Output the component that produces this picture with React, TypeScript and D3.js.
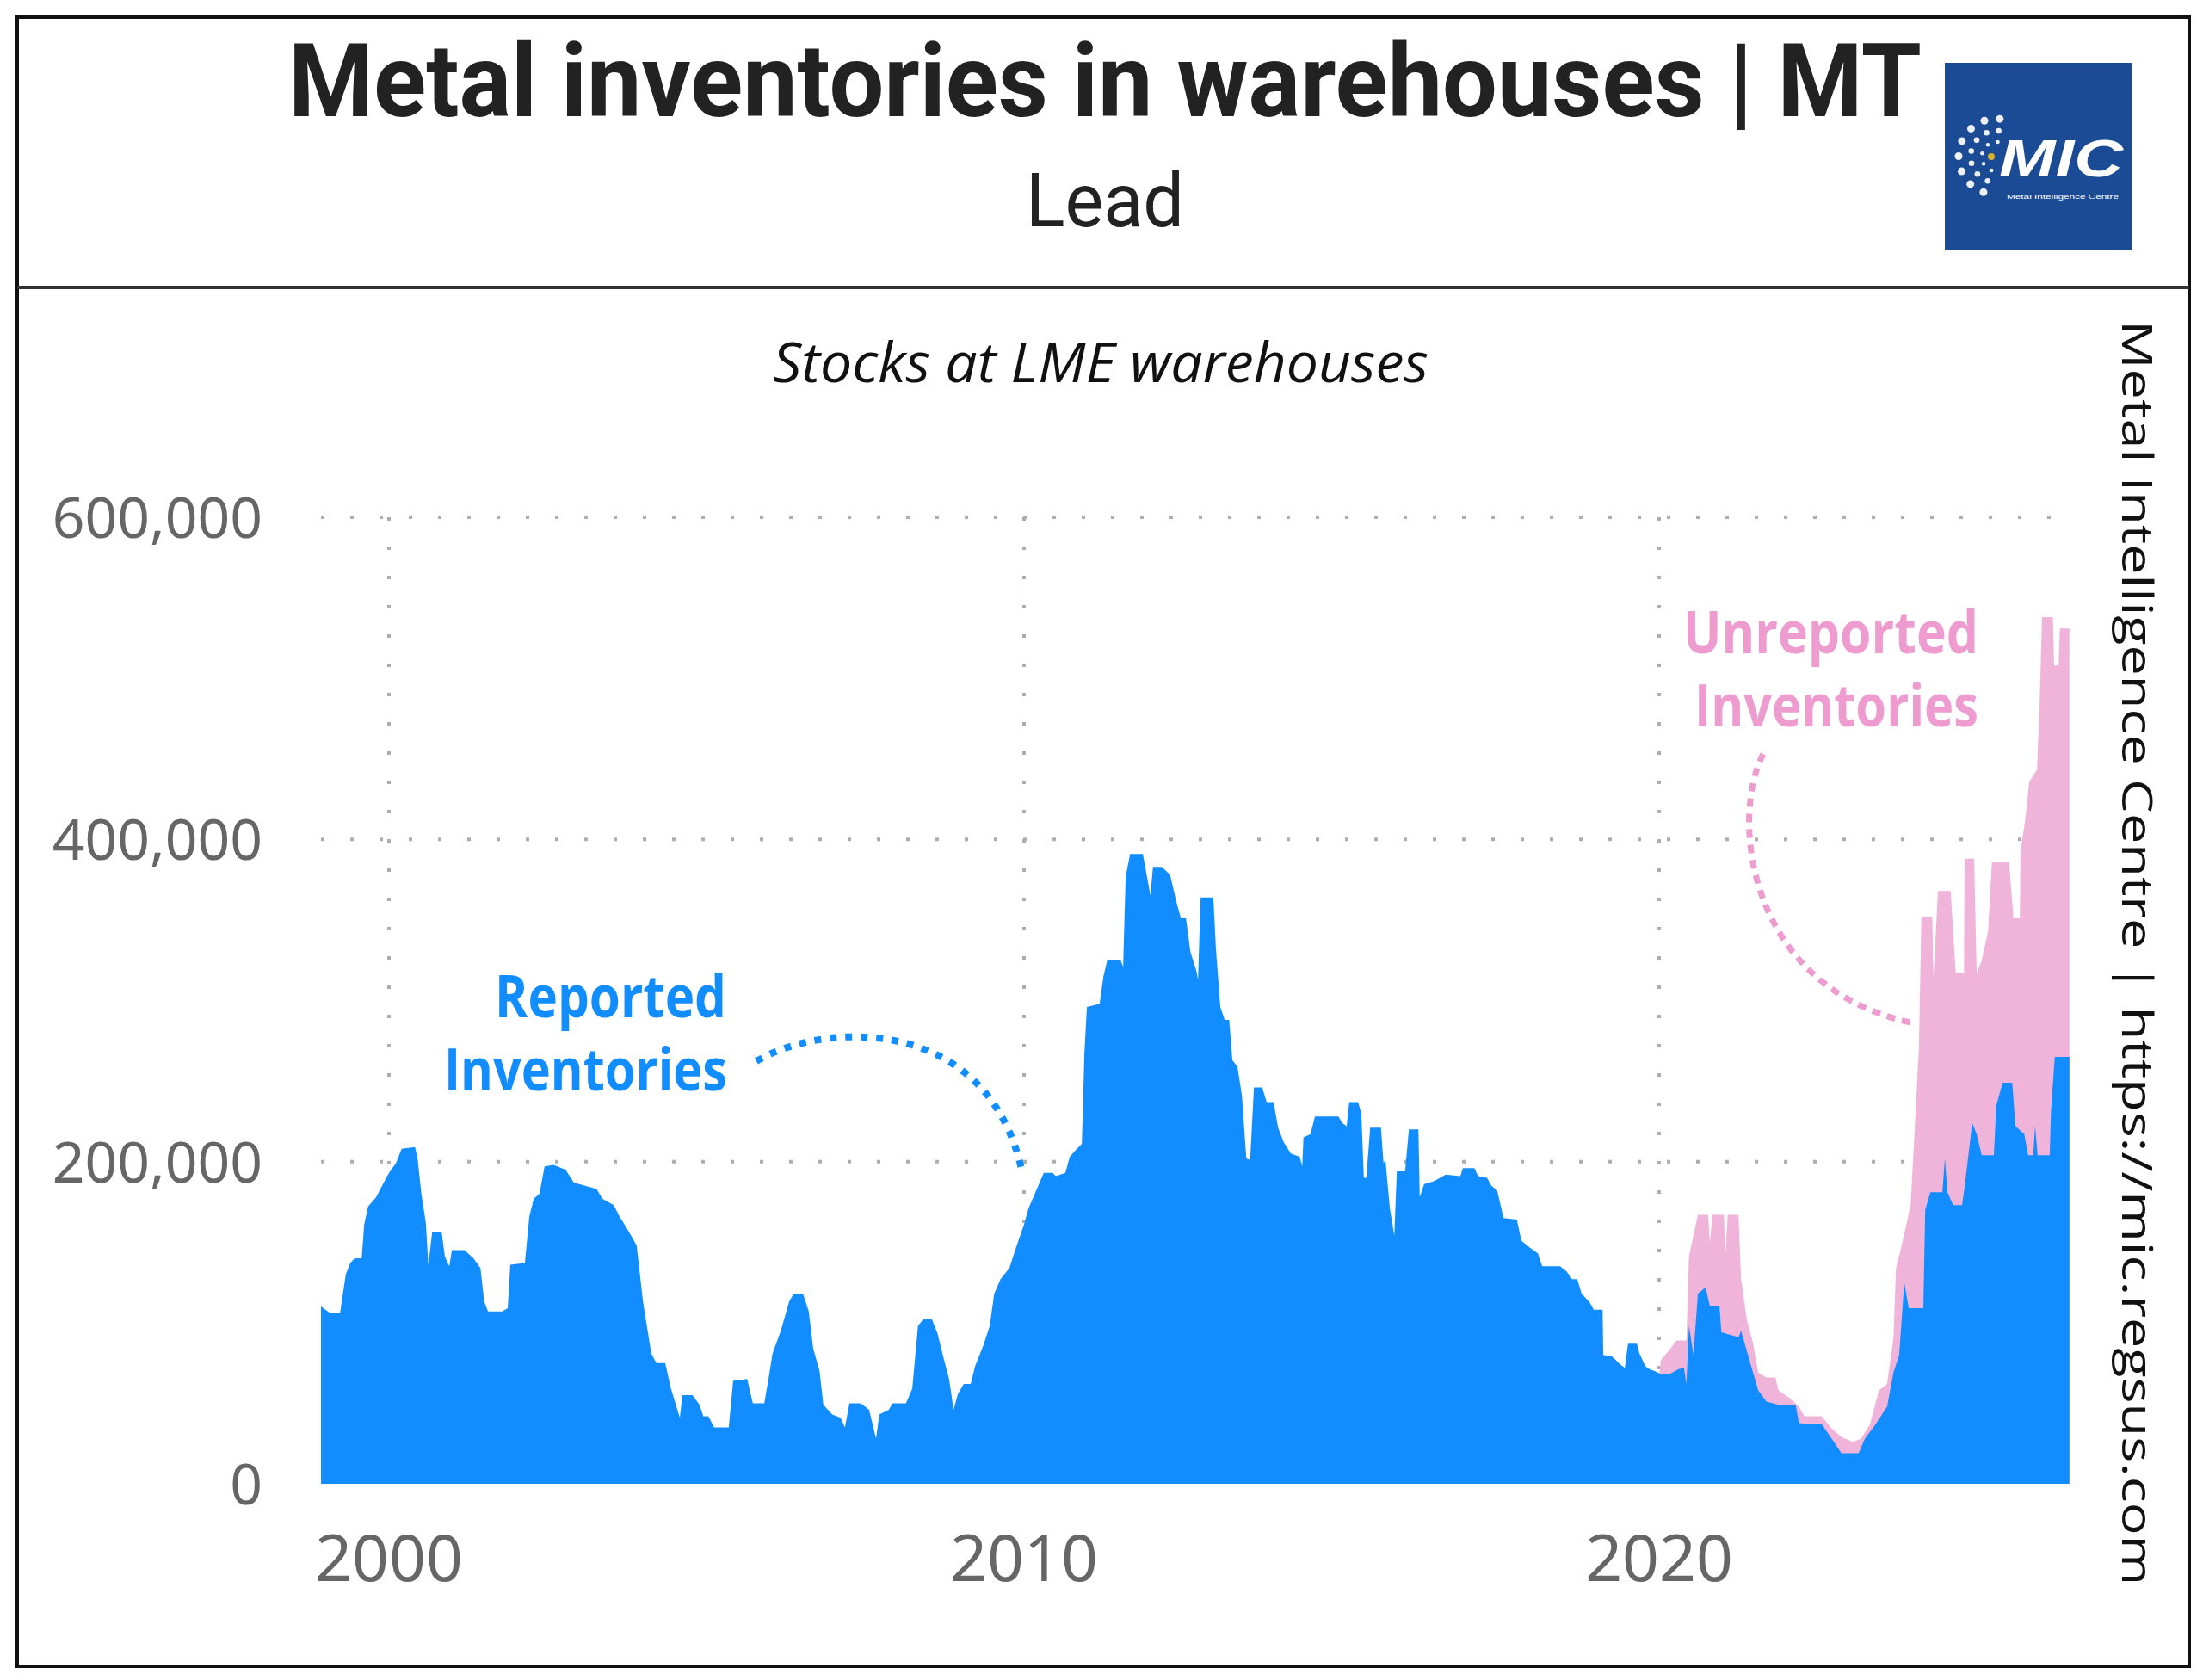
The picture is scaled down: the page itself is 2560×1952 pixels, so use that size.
import React from "react";
import * as d3 from "d3";

// LME lead stocks, thousand tonnes: [decimal year, value]
const reportedStocks: [number, number][] = [
  [1998.93, 110], [1999.07, 106], [1999.23, 106], [1999.32, 130], [1999.39, 137], [1999.46, 140],
  [1999.57, 140], [1999.61, 161], [1999.67, 172], [1999.8, 178], [1999.93, 188], [2000.0, 193],
  [2000.11, 199], [2000.2, 208], [2000.41, 209], [2000.45, 202], [2000.51, 180], [2000.58, 162],
  [2000.62, 136], [2000.68, 156], [2000.83, 156], [2000.88, 141], [2000.95, 135], [2000.99, 145],
  [2001.19, 145], [2001.33, 140], [2001.44, 134], [2001.5, 113], [2001.56, 107], [2001.78, 107],
  [2001.87, 109], [2001.91, 136], [2002.14, 137], [2002.21, 166], [2002.28, 177], [2002.37, 180],
  [2002.45, 197], [2002.59, 198], [2002.78, 195], [2002.91, 187], [2003.09, 185], [2003.27, 183],
  [2003.36, 177], [2003.54, 173], [2003.63, 166], [2003.77, 157], [2003.9, 148], [2004.0, 113],
  [2004.13, 81], [2004.21, 75], [2004.35, 75], [2004.44, 59], [2004.58, 41], [2004.62, 55],
  [2004.78, 55], [2004.89, 49], [2004.95, 42], [2005.03, 42], [2005.12, 35], [2005.35, 35],
  [2005.42, 64], [2005.64, 65], [2005.73, 50], [2005.91, 50], [2005.98, 66], [2006.04, 81],
  [2006.17, 95], [2006.3, 113], [2006.37, 118], [2006.52, 118], [2006.61, 107], [2006.68, 84],
  [2006.78, 70], [2006.84, 49], [2006.98, 43], [2007.11, 41], [2007.18, 35], [2007.25, 50],
  [2007.43, 50], [2007.56, 46], [2007.67, 28], [2007.72, 43], [2007.87, 46], [2007.93, 50],
  [2008.14, 50], [2008.24, 59], [2008.33, 98], [2008.41, 102], [2008.55, 102], [2008.64, 93],
  [2008.74, 77], [2008.82, 65], [2008.89, 46], [2008.96, 56], [2009.05, 62], [2009.16, 62],
  [2009.23, 73], [2009.36, 86], [2009.46, 98], [2009.53, 118], [2009.63, 127], [2009.77, 134],
  [2009.86, 145], [2010.0, 161], [2010.07, 171], [2010.18, 181], [2010.31, 193], [2010.45, 193],
  [2010.5, 191], [2010.65, 193], [2010.72, 203], [2010.81, 207], [2010.91, 211], [2010.95, 267],
  [2010.99, 296], [2011.19, 298], [2011.25, 315], [2011.31, 325], [2011.52, 325], [2011.56, 321],
  [2011.6, 377], [2011.67, 391], [2011.87, 391], [2011.94, 376], [2011.99, 365], [2012.03, 383],
  [2012.17, 383], [2012.3, 378], [2012.4, 361], [2012.47, 351], [2012.55, 351], [2012.62, 330],
  [2012.71, 319], [2012.74, 313], [2012.78, 364], [2012.98, 364], [2013.02, 333], [2013.09, 296],
  [2013.16, 288], [2013.23, 288], [2013.28, 263], [2013.36, 259], [2013.43, 241], [2013.5, 202],
  [2013.56, 201], [2013.62, 246], [2013.75, 246], [2013.82, 237], [2013.93, 237], [2014.0, 221],
  [2014.09, 212], [2014.2, 205], [2014.34, 203], [2014.38, 197], [2014.4, 215], [2014.51, 217],
  [2014.58, 228], [2014.95, 228], [2015.01, 224], [2015.08, 222], [2015.12, 237], [2015.26, 237],
  [2015.31, 230], [2015.35, 190], [2015.39, 190], [2015.45, 221], [2015.62, 221], [2015.66, 199],
  [2015.69, 201], [2015.76, 171], [2015.83, 154], [2015.87, 194], [2016.0, 194], [2016.06, 220],
  [2016.21, 220], [2016.23, 178], [2016.3, 186], [2016.46, 188], [2016.64, 192], [2016.87, 191],
  [2016.91, 196], [2017.09, 196], [2017.15, 191], [2017.29, 190], [2017.36, 185], [2017.45, 182],
  [2017.55, 165], [2017.76, 164], [2017.83, 151], [2017.95, 147], [2018.09, 143], [2018.16, 135],
  [2018.44, 135], [2018.54, 132], [2018.63, 127], [2018.71, 127], [2018.78, 118], [2018.9, 113],
  [2018.97, 108], [2019.11, 108], [2019.12, 80], [2019.26, 79], [2019.39, 74], [2019.46, 72],
  [2019.51, 87], [2019.65, 87], [2019.69, 81], [2019.78, 73], [2019.85, 71], [2019.93, 70],
  [2020.03, 68], [2020.16, 68], [2020.3, 71], [2020.39, 72], [2020.43, 62], [2020.47, 98],
  [2020.54, 80], [2020.61, 118], [2020.73, 122], [2020.8, 110], [2020.95, 110], [2020.98, 94],
  [2021.25, 91], [2021.29, 95], [2021.42, 77], [2021.56, 58], [2021.69, 51], [2021.88, 49],
  [2022.15, 49], [2022.2, 38], [2022.29, 37], [2022.56, 37], [2022.7, 29], [2022.87, 19],
  [2023.14, 19], [2023.24, 28], [2023.41, 37], [2023.59, 48], [2023.69, 69], [2023.78, 80],
  [2023.86, 125], [2023.93, 109], [2024.16, 109], [2024.19, 170], [2024.27, 181], [2024.46, 181],
  [2024.5, 202], [2024.54, 181], [2024.63, 173], [2024.77, 173], [2024.81, 184], [2024.93, 224],
  [2025.0, 217], [2025.08, 204], [2025.27, 204], [2025.31, 235], [2025.41, 249], [2025.56, 249],
  [2025.61, 222], [2025.75, 217], [2025.81, 204], [2025.89, 204], [2025.92, 222], [2025.96, 204],
  [2026.15, 204], [2026.17, 231], [2026.23, 265], [2026.46, 265],
];

// Reported + unreported stocks, thousand tonnes
const totalStocks: [number, number][] = [
  [2020.0, 68], [2020.03, 77], [2020.16, 83], [2020.27, 89], [2020.43, 89], [2020.47, 141],
  [2020.54, 154], [2020.61, 167], [2020.77, 167], [2020.8, 150], [2020.84, 167], [2021.02, 167],
  [2021.04, 140], [2021.08, 167], [2021.25, 167], [2021.29, 127], [2021.38, 102], [2021.48, 87],
  [2021.56, 69], [2021.69, 66], [2021.83, 66], [2021.88, 58], [2022.06, 53], [2022.2, 48],
  [2022.29, 42], [2022.56, 42], [2022.7, 35], [2022.87, 29], [2023.05, 26], [2023.18, 28],
  [2023.32, 37], [2023.46, 58], [2023.59, 62], [2023.69, 91], [2023.73, 134], [2023.82, 148],
  [2023.96, 173], [2024.02, 217], [2024.09, 270], [2024.13, 352], [2024.3, 352], [2024.32, 314],
  [2024.39, 368], [2024.59, 368], [2024.67, 317], [2024.8, 317], [2024.81, 388], [2024.96, 388],
  [2025.0, 317], [2025.08, 325], [2025.18, 343], [2025.24, 386], [2025.51, 386], [2025.58, 351],
  [2025.68, 351], [2025.69, 393], [2025.76, 411], [2025.83, 436], [2025.95, 443], [2025.99, 483],
  [2026.03, 538], [2026.2, 538], [2026.22, 508], [2026.29, 508], [2026.31, 531], [2026.46, 531],
];

const yTicks = [0, 200, 400, 600]; // thousand tonnes
const xTicks = [2000, 2010, 2020];

const titleText = "Metal inventories in warehouses | MT";
const metalName = "Lead";
const subtitleText = "Stocks at LME warehouses";
const sourceText = "Metal Intelligence Centre | https://mic.regsus.com";

const BLUE = "#118DFF";
const PINK_AREA = "#F0B3D9";
const PINK_TEXT = "#EE9BCF";

export default function App() {
  const x = d3.scaleLinear().domain([2000, 2020]).range([452, 1928]);
  const y = d3.scaleLinear().domain([0, 600]).range([1724, 601]);
  const area = d3
    .area<[number, number]>()
    .x((d) => x(d[0]))
    .y0(y(0))
    .y1((d) => y(d[1]))
    .curve(d3.curveLinear);
  const fmt = d3.format(",");
  const left = x(reportedStocks[0][0]);
  const right = x(totalStocks[totalStocks.length - 1][0]);

  // logo dots
  const logoC = { x: 2320, y: 182 };
  const rings = [
    { R: 44, r: 4.5, n: 8 },
    { R: 30, r: 3.3, n: 7 },
    { R: 17, r: 2.3, n: 5 },
  ];
  const dots: { cx: number; cy: number; r: number }[] = [];
  rings.forEach((ring) => {
    for (let i = 0; i < ring.n; i++) {
      const a = ((85 + (i * 165) / (ring.n - 1)) * Math.PI) / 180;
      dots.push({ cx: logoC.x + ring.R * Math.cos(a), cy: logoC.y - ring.R * Math.sin(a), r: ring.r });
    }
  });

  return (
    <svg
      width={2560}
      height={1952}
      viewBox="0 0 2560 1952"
      style={{ position: "absolute", left: 0, top: 0, background: "#fff" }}
    >
      <rect x={0} y={0} width={2560} height={1952} fill="#fff" />

      {/* header */}
      <text
        x={1284}
        y={135}
        textAnchor="middle"
        fontFamily="Roboto, 'DejaVu Sans', sans-serif"
        fontWeight={700}
        fontSize={118}
        fill="#222"
        textLength={1898}
        lengthAdjust="spacingAndGlyphs"
      >
        {titleText}
      </text>
      <text
        x={1284}
        y={263}
        textAnchor="middle"
        fontFamily="Roboto, 'DejaVu Sans', sans-serif"
        fontSize={88}
        fill="#222"
        textLength={184}
        lengthAdjust="spacingAndGlyphs"
      >
        {metalName}
      </text>

      {/* logo */}
      <rect x={2260} y={73} width={217} height={218} fill="#1B4B95" />
      {dots.map((d, i) => (
        <circle key={i} cx={d.cx} cy={d.cy} r={d.r} fill="#fff" opacity={0.92} />
      ))}
      <circle cx={logoC.x - 6} cy={logoC.y} r={4} fill="#D2B42C" />
      <text
        x={2323}
        y={205}
        fontFamily="'Liberation Sans', Arial, sans-serif"
        fontStyle="italic"
        fontWeight={700}
        fontSize={62}
        fill="#fff"
        textLength={144}
        lengthAdjust="spacingAndGlyphs"
      >
        MIC
      </text>
      <text
        x={2332}
        y={231}
        fontFamily="'Liberation Sans', Arial, sans-serif"
        fontSize={8}
        fill="#fff"
        textLength={130}
        lengthAdjust="spacingAndGlyphs"
      >
        Metal Intelligence Centre
      </text>

      {/* subtitle */}
      <text
        x={1279}
        y={444}
        textAnchor="middle"
        fontFamily="'Open Sans', sans-serif"
        fontStyle="italic"
        fontSize={64}
        fill="#111"
        textLength={762}
        lengthAdjust="spacingAndGlyphs"
      >
        {subtitleText}
      </text>

      {/* gridlines */}
      {yTicks
        .filter((t) => t > 0)
        .map((t) => (
          <line
            key={"gy" + t}
            x1={left}
            x2={right}
            y1={y(t)}
            y2={y(t)}
            stroke="#ADADAD"
            strokeWidth={4}
            strokeDasharray="4 30"
          />
        ))}
      {xTicks.map((t) => (
        <line
          key={"gx" + t}
          x1={x(t)}
          x2={x(t)}
          y1={y(600)}
          y2={y(0)}
          stroke="#ADADAD"
          strokeWidth={4}
          strokeDasharray="4 30"
        />
      ))}

      {/* areas */}
      <path d={area(totalStocks) || ""} fill={PINK_AREA} />
      <path d={area(reportedStocks) || ""} fill={BLUE} />

      {/* y axis labels */}
      {yTicks.map((t) => (
        <text
          key={"yl" + t}
          x={305}
          y={y(t) + 24}
          textAnchor="end"
          fontFamily="'Noto Sans', 'Open Sans', sans-serif"
          fontSize={66}
          fill="#666"
        >
          {fmt(t * 1000)}
        </text>
      ))}

      {/* x axis labels */}
      {xTicks.map((t) => (
        <text
          key={"xl" + t}
          x={x(t)}
          y={1837}
          textAnchor="middle"
          fontFamily="'Noto Sans', 'Open Sans', sans-serif"
          fontSize={75}
          fill="#666"
        >
          {t}
        </text>
      ))}

      {/* annotations */}
      <g fontFamily="'Open Sans', sans-serif" fontWeight={700} fontSize={68}>
        <text x={844} y={1182} textAnchor="end" fill={BLUE} textLength={269} lengthAdjust="spacingAndGlyphs">
          Reported
        </text>
        <text x={845} y={1267} textAnchor="end" fill={BLUE} textLength={329} lengthAdjust="spacingAndGlyphs">
          Inventories
        </text>
        <text x={2299} y={759} textAnchor="end" fill={PINK_TEXT} textLength={343} lengthAdjust="spacingAndGlyphs">
          Unreported
        </text>
        <text x={2299} y={844} textAnchor="end" fill={PINK_TEXT} textLength={330} lengthAdjust="spacingAndGlyphs">
          Inventories
        </text>
      </g>
      <path
        d="M 879 1233 C 960 1185, 1150 1180, 1188 1363"
        fill="none"
        stroke={BLUE}
        strokeWidth={8}
        strokeDasharray="8 10"
      />
      <path
        d="M 2049 876 C 2010 950, 2030 1150, 2225 1189"
        fill="none"
        stroke={PINK_TEXT}
        strokeWidth={7}
        strokeDasharray="10 8"
      />

      {/* vertical source text */}
      <text
        transform="translate(2466, 372) rotate(90)"
        fontFamily="'Open Sans', sans-serif"
        fontSize={50}
        fill="#111"
        textLength={1470}
        lengthAdjust="spacingAndGlyphs"
      >
        {sourceText}
      </text>

      {/* frame */}
      <rect x={20} y={20} width={2524} height={1916} fill="none" stroke="#111" strokeWidth={4} />
      <line x1={20} x2={2544} y1={334} y2={334} stroke="#333" strokeWidth={4} />
    </svg>
  );
}
